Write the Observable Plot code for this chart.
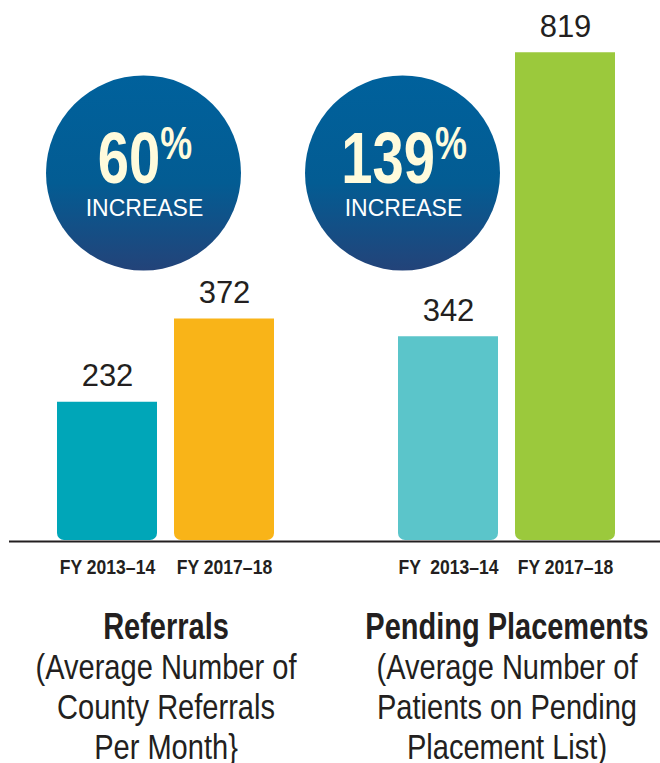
<!DOCTYPE html>
<html>
<head>
<meta charset="utf-8">
<script src="https://cdn.jsdelivr.net/npm/d3@7"></script>
<script src="https://cdn.jsdelivr.net/npm/@observablehq/plot@0.6"></script>
<style>
  body { margin: 0; background: #fff; }
  #wrap { position: relative; width: 660px; height: 763px; overflow: hidden; }
  #wrap svg text { white-space: pre; }
  .cut { position: absolute; top: -27px; font: bold 30px "Liberation Sans", sans-serif; color: #00a9bd; }
</style>
</head>
<body>
<div id="wrap">
  <span class="cut" style="left:131px">(</span><span class="cut" style="left:190px">)</span>
</div>
<script>
// ---- data ----
const groups = ["Referrals", "Pending Placements"];
const years = ["FY 2013–14", "FY 2017–18"];
const values = [232, 372, 342, 819];
const yearLabels = ["FY 2013–14", "FY 2017–18", "FY  2013–14", "FY 2017–18"];
const barColors = ["#00a6b8", "#f9b418", "#5bc5ca", "#9bc93c"];
const titles = ["Referrals", "Pending Placements"];
const subtitles = [
  "(Average Number of\nCounty Referrals\nPer Month}",
  "(Average Number of\nPatients on Pending\nPlacement List)"
];
const increases = ["60%", "139%"];
const increaseWord = "INCREASE";

// ---- tables ----
const bars = values.map((v, i) => ({
  group: groups[Math.floor(i / 2)],
  year: years[i % 2],
  value: v,
  label: yearLabels[i],
  color: barColors[i]
}));
const groupRows = groups.map((g, i) => ({group: g, title: titles[i], lines: subtitles[i].split("\n"), pct: increases[i]}));

const sans = '"Liberation Sans", Arial, sans-serif';
const ink = "#231f20";

// layout offsets of the circle badges inside each facet frame
const badgeDx = [97, 15];
const badgeMarks = groupRows.flatMap((row, i) => [
  Plot.dot([row], {fx: "group", frameAnchor: "top-left", dx: badgeDx[i], dy: 168.5, r: 97.5, fill: "url(#circleGrad)", stroke: "none"}),
  Plot.text([row], {fx: "group", frameAnchor: "top-left", textAnchor: "middle", dx: badgeDx[i] + 1.5, dy: 178, text: "pct",
    lineAnchor: "bottom", fontSize: 72, fontWeight: "bold", fill: "#fffbdc"}),
  Plot.text([row], {fx: "group", frameAnchor: "top-left", textAnchor: "middle", dx: badgeDx[i] + 1, dy: 211, text: () => increaseWord,
    lineAnchor: "bottom", fontSize: 23, fill: "#ffffff"})
]);

const subtitleMarks = [0, 1, 2].map((k) =>
  Plot.text(groupRows, {fx: "group", frameAnchor: "bottom", text: (d) => d.lines[k], lineAnchor: "bottom", dy: 138 + 40 * k,
    fontSize: 35, fill: ink})
);

const svg = Plot.plot({
  width: 660,
  height: 763,
  marginLeft: 45,
  marginRight: 33,
  marginTop: 4,
  marginBottom: 223,
  fx: {domain: groups, axis: null, paddingInner: 0.298, paddingOuter: 0},
  x: {domain: years, axis: null, paddingInner: 0.144, paddingOuter: 0.089},
  y: {domain: [0, 900], axis: null},
  color: {type: "identity"},
  style: {fontFamily: sans, background: "#fff", overflow: "visible"},
  marks: [
    Plot.barY(bars, {fx: "group", x: "year", y: "value", fill: "color", ry2: 7}),
    Plot.ruleY([0], {stroke: ink, strokeWidth: 2, dy: 1, insetLeft: -37, insetRight: -65}),
    Plot.text(bars, {fx: "group", x: "year", y: "value", text: (d) => String(d.value), lineAnchor: "bottom", dy: -16,
      fontSize: 31, fill: ink}),
    Plot.text(bars, {fx: "group", x: "year", frameAnchor: "bottom", text: "label", lineAnchor: "bottom", dy: 33,
      fontSize: 19.5, fontWeight: "bold", fill: ink}),
    ...badgeMarks,
    Plot.text(groupRows, {fx: "group", frameAnchor: "bottom", text: "title", lineAnchor: "bottom", dy: 98,
      fontSize: 36, fontWeight: "bold", fill: ink}),
    ...subtitleMarks
  ]
});

// gradient for the badges
const ns = "http://www.w3.org/2000/svg";
const defs = document.createElementNS(ns, "defs");
defs.innerHTML = '<linearGradient id="circleGrad" x1="0" y1="0" x2="0" y2="1">' +
  '<stop offset="0" stop-color="#00619c"/><stop offset="0.55" stop-color="#035c93"/>' +
  '<stop offset="1" stop-color="#234379"/></linearGradient>';
svg.insertBefore(defs, svg.firstChild);

// superscript percent sign
svg.querySelectorAll("text").forEach((t) => {
  const s = t.textContent;
  if (increases.includes(s) && t.childElementCount === 0) {
    t.textContent = s.slice(0, -1);
    const sp = document.createElementNS(ns, "tspan");
    sp.setAttribute("font-size", "46");
    sp.setAttribute("dy", "-24");
    sp.textContent = "%";
    t.appendChild(sp);
  }
});

svg.style.position = "absolute";
svg.style.left = "0";
svg.style.top = "0";
document.getElementById("wrap").appendChild(svg);

// condensed typeface: compress glyphs horizontally
const subtitleLines = subtitles.flatMap((s) => s.split("\n"));
const condense = (s) => {
  if (yearLabels.includes(s)) return 0.9;
  if (titles.includes(s)) return 0.805;
  if (subtitleLines.includes(s)) return 0.83;
  if (increases.includes(s)) return 0.78;
  return null;
};
svg.querySelectorAll("text").forEach((t) => {
  const k = condense(t.textContent);
  if (k == null) return;
  const len = t.getComputedTextLength();
  t.setAttribute("textLength", (len * k).toFixed(1));
  t.setAttribute("lengthAdjust", "spacingAndGlyphs");
});
</script>
</body>
</html>
